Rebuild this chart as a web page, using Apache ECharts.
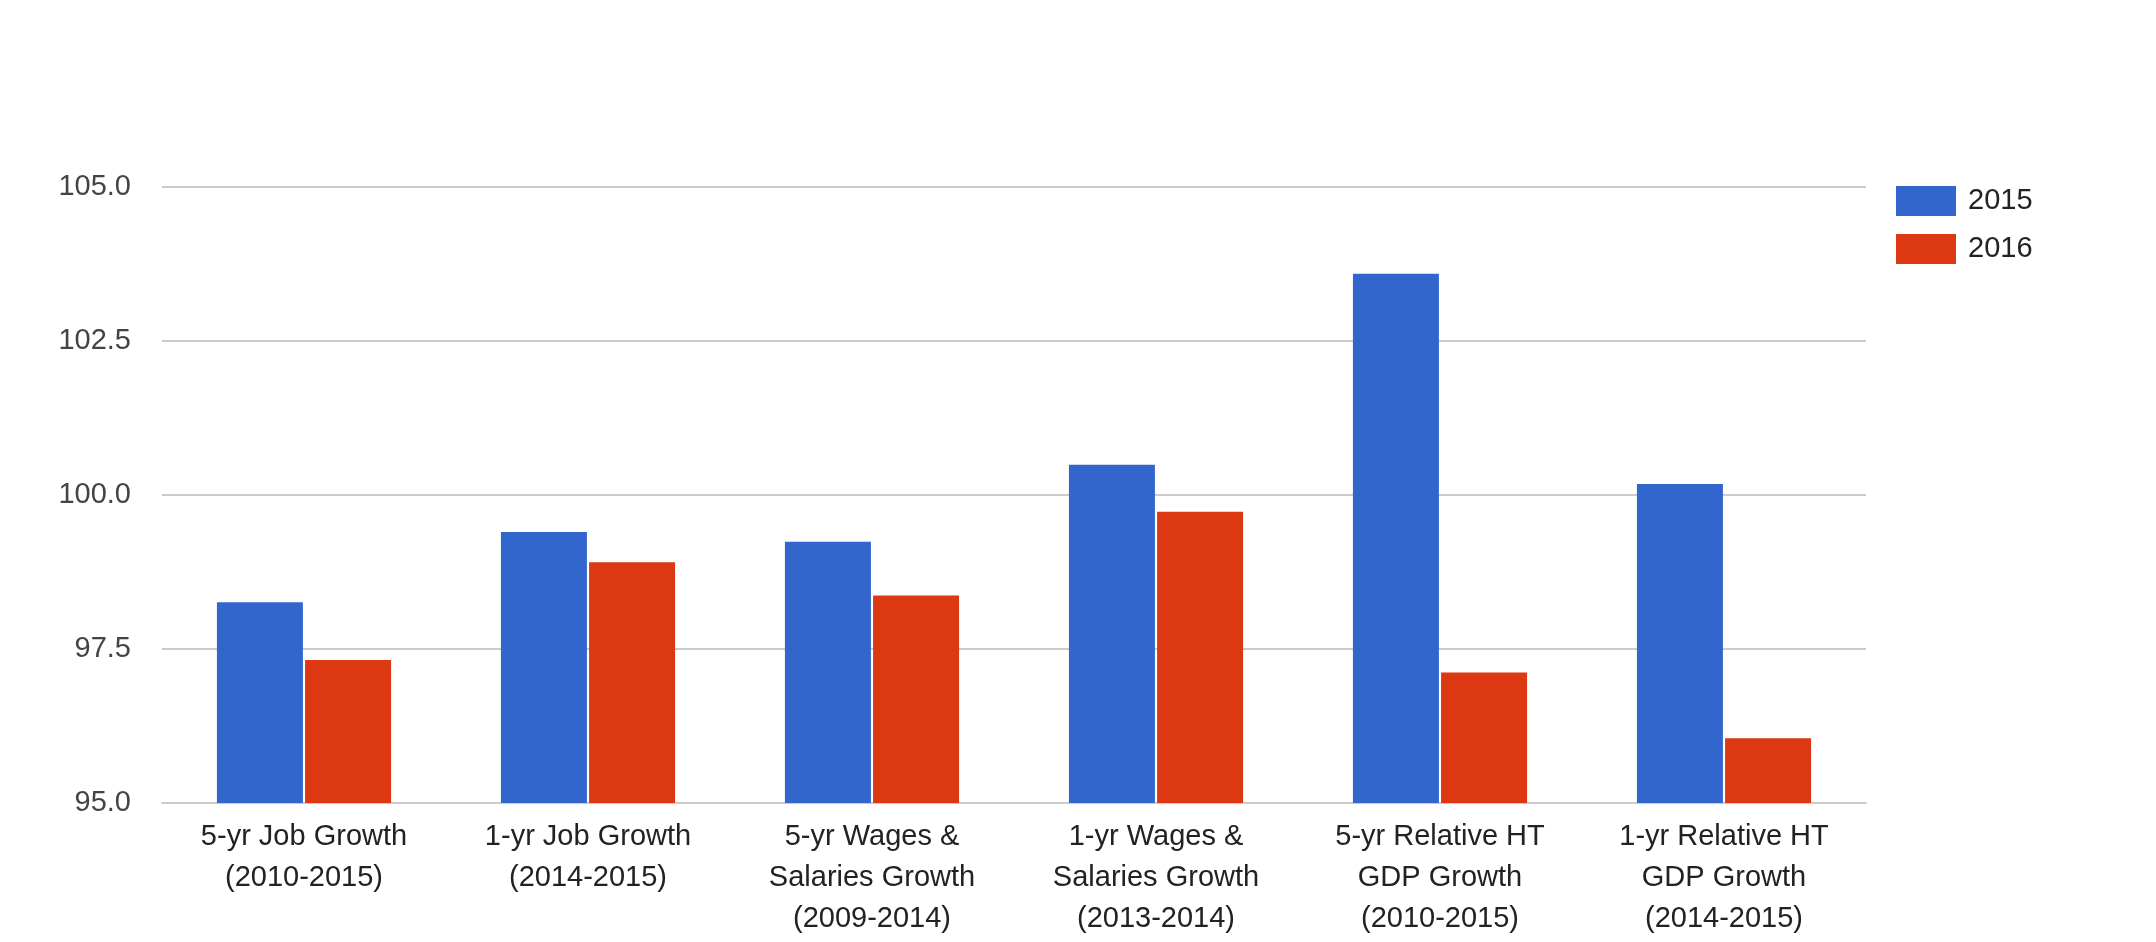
<!DOCTYPE html>
<html>
<head>
<meta charset="utf-8">
<script src="https://cdn.jsdelivr.net/npm/echarts@6/dist/echarts.min.js"></script>
<style>html,body{margin:0;padding:0;background:#fff;}#c{width:2156px;height:942px;}</style>
</head>
<body>
<div id="c"></div>
<script>
const categories = [
  "5-yr Job Growth\n(2010-2015)",
  "1-yr Job Growth\n(2014-2015)",
  "5-yr Wages &\nSalaries Growth\n(2009-2014)",
  "1-yr Wages &\nSalaries Growth\n(2013-2014)",
  "5-yr Relative HT\nGDP Growth\n(2010-2015)",
  "1-yr Relative HT\nGDP Growth\n(2014-2015)"
];
const seriesNames = ["2015", "2016"];
const values2015 = [98.26, 99.40, 99.24, 100.49, 103.59, 100.18];
const values2016 = [97.32, 98.91, 98.37, 99.73, 97.12, 96.05];
const yTicks = [95.0, 97.5, 100.0, 102.5, 105.0];

const chart = echarts.init(document.getElementById('c'));
const font = 'Arial, "Liberation Sans", sans-serif';
chart.setOption({
  animation: false,
  color: ['#3366cc', '#dc3912'],
  textStyle: { fontFamily: font },
  grid: { left: 162, right: 290, top: 187, bottom: 139, containLabel: false },
  legend: {
    orient: 'vertical',
    left: 1896,
    top: 186,
    padding: 0,
    itemWidth: 60,
    itemHeight: 30,
    itemGap: 18,
    icon: 'rect',
    data: seriesNames,
    textStyle: { fontSize: 29, color: '#222', fontFamily: font, padding: [5, 0, 0, 7] }
  },
  xAxis: {
    type: 'category',
    data: categories,
    axisLine: { lineStyle: { color: '#ccc', width: 2 } },
    axisTick: { show: false },
    axisLabel: {
      interval: 0,
      margin: 13,
      fontSize: 29,
      lineHeight: 41,
      color: '#222',
      fontFamily: font,
      align: 'center'
    }
  },
  yAxis: {
    type: 'value',
    min: yTicks[0],
    max: yTicks[yTicks.length - 1],
    interval: 2.5,
    axisLine: { show: false },
    axisTick: { show: false },
    splitLine: { lineStyle: { color: '#ccc', width: 2 } },
    axisLabel: {
      margin: 31,
      fontSize: 29,
      color: '#444',
      fontFamily: font,
      formatter: v => v.toFixed(1)
    }
  },
  series: [
    { name: seriesNames[0], type: 'bar', data: values2015, barWidth: 86, barGap: '2.5%' },
    { name: seriesNames[1], type: 'bar', data: values2016, barWidth: 86, barGap: '2.5%' }
  ]
});
</script>
</body>
</html>
